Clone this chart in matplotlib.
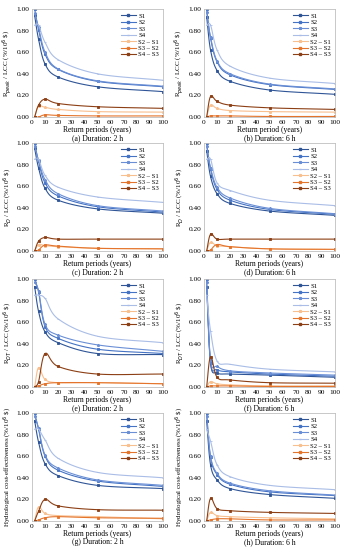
import numpy as np
import matplotlib.pyplot as plt
from matplotlib.lines import Line2D

plt.rcParams['font.family'] = ['Liberation Serif', 'DejaVu Serif']

# Return periods (years)
periods = [2, 5, 10, 20, 50, 100]

series_names = ["S1", "S2", "S3", "S4", "S2 \u2013 S1", "S3 \u2013 S2", "S4 \u2013 S3"]

# (a) R_peak / LCC, 2 h
a_vals = [
    [0.94, 0.72, 0.49, 0.37, 0.28, 0.235],
    [1.00, 0.81, 0.58, 0.44, 0.33, 0.28],
    [0.96, 0.83, 0.60, 0.445, 0.335, 0.285],
    [0.85, 0.85, 0.69, 0.53, 0.40, 0.34],
    [0.0, 0.10, 0.09, 0.07, 0.05, 0.045],
    [0.0, 0.0, 0.02, 0.015, 0.01, 0.01],
    [0.0, 0.11, 0.165, 0.125, 0.095, 0.08],
]
# (b) R_peak / LCC, 6 h
b_vals = [
    [0.93, 0.62, 0.43, 0.33, 0.25, 0.21],
    [1.00, 0.73, 0.51, 0.39, 0.30, 0.255],
    [0.97, 0.74, 0.52, 0.40, 0.305, 0.26],
    [0.85, 0.85, 0.62, 0.47, 0.36, 0.31],
    [0.0, 0.11, 0.08, 0.06, 0.05, 0.045],
    [0.0, 0.01, 0.01, 0.01, 0.005, 0.005],
    [0.0, 0.19, 0.145, 0.11, 0.085, 0.07],
]
# (c) R_D / LCC, 2 h
c_vals = [
    [0.95, 0.77, 0.58, 0.47, 0.39, 0.35],
    [1.00, 0.83, 0.63, 0.51, 0.41, 0.36],
    [0.97, 0.84, 0.66, 0.53, 0.42, 0.37],
    [0.85, 0.85, 0.70, 0.59, 0.50, 0.45],
    [0.0, 0.06, 0.05, 0.04, 0.025, 0.02],
    [0.0, 0.01, 0.055, 0.045, 0.025, 0.02],
    [0.0, 0.09, 0.125, 0.11, 0.11, 0.11],
]
# (d) R_D / LCC, 6 h
d_vals = [
    [0.93, 0.69, 0.53, 0.44, 0.37, 0.33],
    [1.00, 0.76, 0.57, 0.47, 0.385, 0.34],
    [0.97, 0.77, 0.59, 0.49, 0.395, 0.345],
    [0.85, 0.85, 0.63, 0.56, 0.47, 0.42],
    [0.0, 0.08, 0.05, 0.04, 0.02, 0.015],
    [0.0, 0.01, 0.06, 0.04, 0.02, 0.015],
    [0.0, 0.155, 0.11, 0.11, 0.11, 0.11],
]
# (e) R_DT / LCC, 2 h
e_vals = [
    [0.93, 0.70, 0.51, 0.41, 0.31, 0.30],
    [1.00, 0.88, 0.56, 0.45, 0.35, 0.31],
    [0.97, 0.89, 0.58, 0.48, 0.39, 0.33],
    [0.85, 0.85, 0.82, 0.63, 0.47, 0.41],
    [0.0, 0.18, 0.07, 0.04, 0.04, 0.03],
    [0.0, 0.01, 0.03, 0.04, 0.04, 0.03],
    [0.0, 0.05, 0.31, 0.19, 0.12, 0.12],
]
# (f) R_DT / LCC, 6 h
f_vals = [
    [0.93, 0.22, 0.13, 0.12, 0.11, 0.09],
    [1.00, 0.23, 0.16, 0.14, 0.12, 0.10],
    [0.97, 0.25, 0.19, 0.15, 0.13, 0.11],
    [0.85, 0.52, 0.24, 0.21, 0.165, 0.14],
    [0.0, 0.05, 0.03, 0.02, 0.01, 0.01],
    [0.0, 0.01, 0.01, 0.01, 0.005, 0.005],
    [0.0, 0.28, 0.09, 0.065, 0.04, 0.035],
]
# (g) hydrological cost-effectiveness, 2 h
g_vals = [
    [0.93, 0.73, 0.53, 0.42, 0.33, 0.30],
    [1.00, 0.85, 0.60, 0.47, 0.37, 0.32],
    [0.97, 0.86, 0.61, 0.49, 0.38, 0.33],
    [0.85, 0.85, 0.75, 0.58, 0.45, 0.40],
    [0.0, 0.13, 0.07, 0.05, 0.04, 0.02],
    [0.0, 0.01, 0.03, 0.04, 0.03, 0.025],
    [0.0, 0.09, 0.20, 0.14, 0.105, 0.10],
]
# (h) hydrological cost-effectiveness, 6 h
h_vals = [
    [0.93, 0.52, 0.38, 0.30, 0.245, 0.21],
    [1.00, 0.59, 0.43, 0.34, 0.27, 0.235],
    [0.97, 0.60, 0.44, 0.35, 0.28, 0.24],
    [0.85, 0.74, 0.52, 0.41, 0.33, 0.29],
    [0.0, 0.08, 0.05, 0.04, 0.03, 0.02],
    [0.0, 0.01, 0.02, 0.02, 0.01, 0.01],
    [0.0, 0.21, 0.115, 0.095, 0.08, 0.07],
]

ylabels = [
    r"R$_{peak}$ / LCC (%/10$^6$ \$)",
    r"R$_{D}$ / LCC (%/10$^6$ \$)",
    r"R$_{DT}$ / LCC (%/10$^6$ \$)",
    r"Hydrological cost-effectiveness (%/10$^6$ \$)",
]
captions = ["(a) Duration: 2 h", "(b) Duration: 6 h", "(c) Duration: 2 h", "(d) Duration: 6 h",
            "(e) Duration: 2 h", "(f) Duration: 6 h", "(g) Duration: 2 h", "(h) Duration: 6 h"]
xlabels = ["Return periods (years)", "Return period (years)"] + ["Return periods (years)"] * 6

colors = ["#2f5597", "#4472c4", "#6a8fd6", "#a9bde6", "#f8bf8f", "#e4742b", "#8c3f14"]
markers = ["s", "s", "*", "_", "*", "s", "s"]


def smooth(x, y, n=25):
    # Catmull-Rom spline through the points (like Excel smoothed lines)
    x = np.asarray(x, float)
    y = np.asarray(y, float)
    px = np.concatenate([[2 * x[0] - x[1]], x, [2 * x[-1] - x[-2]]])
    py = np.concatenate([[2 * y[0] - y[1]], y, [2 * y[-1] - y[-2]]])
    xs, ys = [], []
    t = np.linspace(0, 1, n)
    for i in range(1, len(px) - 2):
        for p, out in ((px, xs), (py, ys)):
            p0, p1, p2, p3 = p[i - 1], p[i], p[i + 1], p[i + 2]
            out.append(0.5 * (2 * p1 + (-p0 + p2) * t
                              + (2 * p0 - 5 * p1 + 4 * p2 - p3) * t ** 2
                              + (-p0 + 3 * p1 - 3 * p2 + p3) * t ** 3))
    return np.concatenate(xs), np.concatenate(ys)


fig = plt.figure(figsize=(3.44, 5.5), dpi=100)

all_vals = [a_vals, b_vals, c_vals, d_vals, e_vals, f_vals, g_vals, h_vals]
lefts = [32 / 344, 204 / 344]
bottoms = [1 - 117 / 550, 1 - 251 / 550, 1 - 387 / 550, 1 - 521 / 550]
w = 131 / 344
h = 108 / 550

for k, vals in enumerate(all_vals):
    row, col = divmod(k, 2)
    ax = fig.add_axes([lefts[col], bottoms[row], w, h])
    for j, yv in enumerate(vals):
        sx, sy = smooth(periods, yv)
        ax.plot(sx, sy, color=colors[j], lw=0.8)
        ax.plot(periods, yv, ls="none", marker=markers[j], ms=2, mew=0.6,
                color=colors[j])
    ax.set_xlim(0, 100)
    ax.set_ylim(0, 1)
    ax.set_xticks(range(0, 101, 10))
    ax.set_yticks(np.arange(0, 1.01, 0.2))
    ax.set_yticklabels([f"{v:.2f}" for v in np.arange(0, 1.01, 0.2)])
    ax.tick_params(labelsize=5.3, length=0, pad=2)
    for s in ax.spines.values():
        s.set_color("#bfbfbf")
        s.set_linewidth(0.6)
    ax.set_ylabel(ylabels[row], fontsize=5, labelpad=2)
    ax.set_xlabel(xlabels[k] + "\n" + captions[k], fontsize=5.5, labelpad=1,
                  linespacing=1.0)
    handles = [Line2D([], [], color=colors[j], lw=0.8, marker=markers[j], ms=2)
               for j in range(7)]
    ax.legend(handles, series_names, loc="upper right", fontsize=4.8, frameon=False,
              handlelength=2.2, handletextpad=0.4, labelspacing=0.12,
              borderaxespad=0.2)

fig.savefig("out.png", dpi=100)
